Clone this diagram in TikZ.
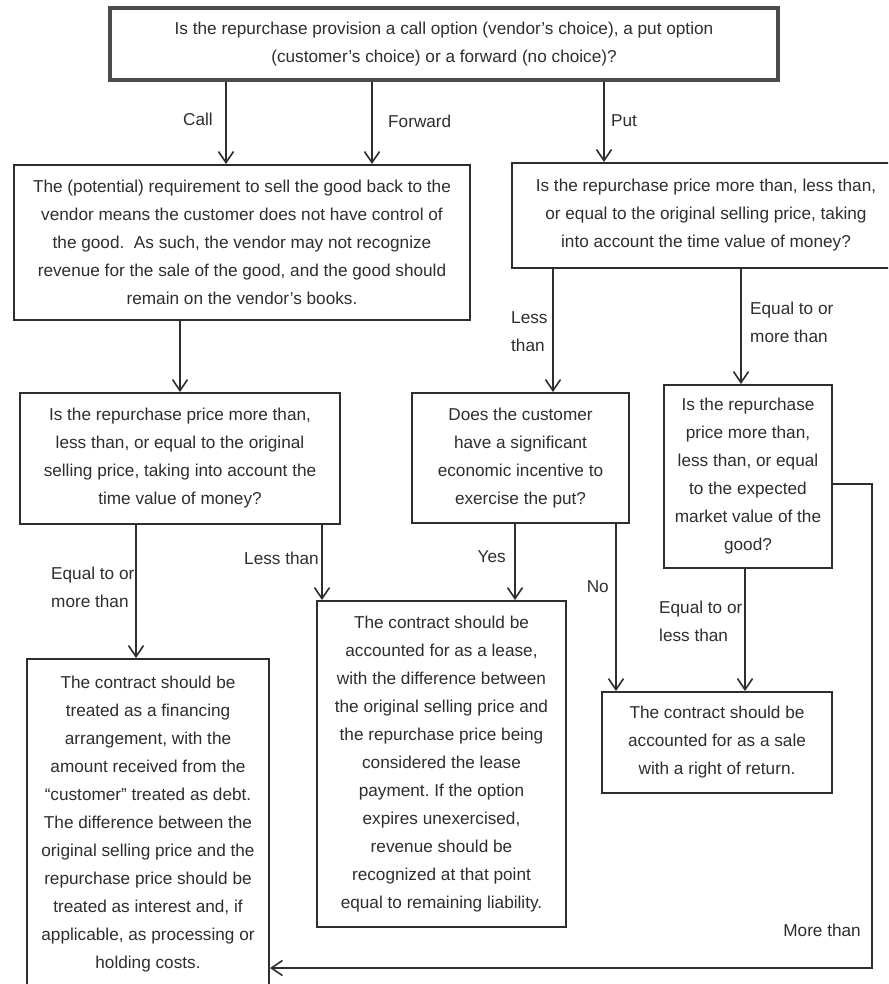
\documentclass[tikz,border=0pt]{standalone}
\usepackage{fontspec}
\setmainfont{Liberation Sans}
\usetikzlibrary{arrows.meta}
\definecolor{ink}{HTML}{2E2E2E}
\frenchspacing
\begin{document}
\begin{tikzpicture}[x=1pt,y=-1pt,
  txt/.style={font=\fontsize{17.2}{28}\selectfont, text=ink},
  box/.style={txt, draw=ink, line width=2pt, align=center, inner sep=0pt},
  lbl/.style={txt, align=left, inner sep=0pt},
  arr/.style={draw=ink, line width=1.7pt, -{Straight Barb[length=11pt,width=15pt,line width=1.6pt]}}]
\clip (0,0) rectangle (888,984);
\fill[white] (0,0) rectangle (888,984);

\node[box, line width=3.5pt, draw=black!70, minimum width=668pt, minimum height=72pt] (top) at (444,44)
  {Is the repurchase provision a call option (vendor's choice), a put option\\(customer's choice) or a forward (no choice)?};

\node[box, minimum width=456pt, minimum height=155pt] (A) at (242,242.5)
  {The (potential) requirement to sell the good back to the\\vendor means the customer does not have control of\\the good.\ \ As such, the vendor may not recognize\\revenue for the sale of the good, and the good should\\remain on the vendor's books.};

\node[box, minimum width=388pt, minimum height=105pt] (B) at (706,215.5)
  {Is the repurchase price more than, less than,\\or equal to the original selling price, taking\\into account the time value of money?};

\node[box, minimum width=320pt, minimum height=131pt] (C) at (180,458.5)
  {Is the repurchase price more than,\\less than, or equal to the original\\selling price, taking into account the\\time value of money?};

\node[box, minimum width=217pt, minimum height=130pt] (D) at (520.5,458)
  {Does the customer\\have a significant\\economic incentive to\\exercise the put?};

\node[box, minimum width=168pt, minimum height=183pt] (E) at (748,476.5)
  {Is the repurchase\\price more than,\\less than, or equal\\to the expected\\market value of the\\good?};

\node[box, minimum width=249pt, minimum height=326pt] (F) at (441.5,764)
  {The contract should be\\accounted for as a lease,\\with the difference between\\the original selling price and\\the repurchase price being\\considered the lease\\payment. If the option\\expires unexercised,\\revenue should be\\recognized at that point\\equal to remaining liability.};

\node[box, minimum width=230pt, minimum height=101pt] (G) at (717,742.5)
  {The contract should be\\accounted for as a sale\\with a right of return.};

\node[box, minimum width=242pt, minimum height=331pt] (H) at (148,824.5)
  {The contract should be\\treated as a financing\\arrangement, with the\\amount received from the\\``customer'' treated as debt.\\The difference between the\\original selling price and the\\repurchase price should be\\treated as interest and, if\\applicable, as processing or\\holding costs.};

% x positions of vertical connectors
\coordinate (xCall) at (226,0);
\coordinate (xFwd) at (372,0);
\coordinate (xPut) at (604,0);
\coordinate (xAC) at (180,0);
\coordinate (xBD) at (553,0);
\coordinate (xBE) at (741,0);
\coordinate (xCH) at (136,0);
\coordinate (xCF) at (322,0);
\coordinate (xYes) at (515,0);
\coordinate (xNo) at (616,0);
\coordinate (xEG) at (745,0);
\coordinate (rTop) at (872,484);
\coordinate (rBot) at (872,968);

\draw[arr] (top.south -| xCall) -- (A.north -| xCall);
\draw[arr] (top.south -| xFwd) -- (A.north -| xFwd);
\draw[arr] (top.south -| xPut) -- (B.north -| xPut);
\draw[arr] (A.south -| xAC) -- (C.north -| xAC);
\draw[arr] (B.south -| xBD) -- (D.north -| xBD);
\draw[arr] (B.south -| xBE) -- (E.north -| xBE);
\draw[arr] (C.south -| xCH) -- (H.north -| xCH);
\draw[arr] (C.south -| xCF) -- (F.north -| xCF);
\draw[arr] (D.south -| xYes) -- (F.north -| xYes);
\draw[arr] (D.south -| xNo) -- (G.north -| xNo);
\draw[arr] (E.south -| xEG) -- (G.north -| xEG);
\draw[arr] (E.east |- rTop) -- (rTop) -- (rBot) -- (H.east |- rBot);

\node[lbl, anchor=east] (lCall) at (213,119) {Call};
\node[lbl, anchor=west] (lFwd) at (388,121) {Forward};
\node[lbl, anchor=west] (lPut) at (611,121) {Put};
\node[lbl, anchor=west] (lLess1) at (511,332) {Less\\than};
\node[lbl, anchor=west] (lEq1) at (750,322) {Equal to or\\more than};
\node[lbl, anchor=west] (lEq2) at (51,587) {Equal to or\\more than};
\node[lbl, anchor=east] (lLess2) at (319,558) {Less than};
\node[lbl, anchor=east] (lYes) at (506,557) {Yes};
\node[lbl, anchor=east] (lNo) at (609,587) {No};
\node[lbl, anchor=west] (lEq3) at (659,621) {Equal to or\\less than};
\node[lbl, anchor=east] (lMore) at (861,930) {More than};
\end{tikzpicture}
\end{document}
